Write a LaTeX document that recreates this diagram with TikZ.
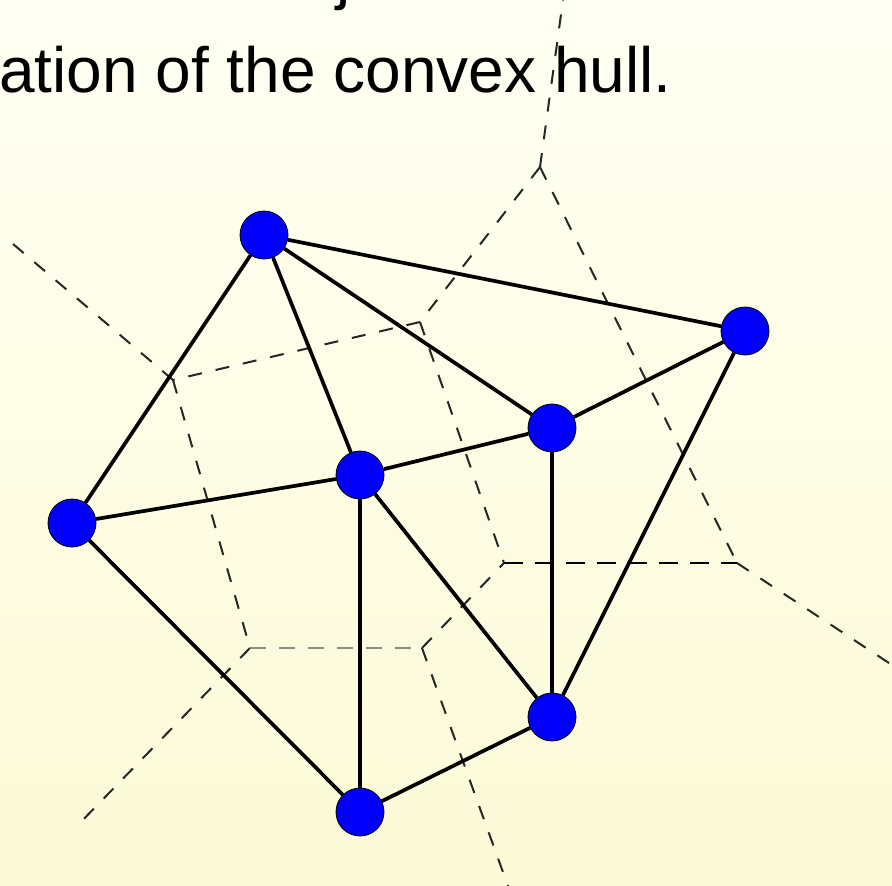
\documentclass[tikz,border=0pt]{standalone}
\usepackage{fontspec}
\setmainfont{Liberation Sans}
\definecolor{bgtop}{RGB}{255,255,244}
\definecolor{bgbot}{RGB}{252,250,214}
\definecolor{nodeblue}{RGB}{0,0,250}
\begin{document}
\begin{tikzpicture}[x=1pt,y=-1pt,
  vtx/.style={circle,draw=black,line width=0.8pt,fill=nodeblue,minimum size=48pt,inner sep=0pt},
  edge/.style={line width=3.7pt,black},
  vor/.style={line width=2pt,black!85,dash pattern=on 14pt off 14pt},
  vorgray/.style={line width=2.8pt,black!45,dash pattern=on 16pt off 13pt},
  vorbold/.style={line width=2.8pt,black,dash pattern=on 19pt off 12pt},
  txt/.style={inner sep=0pt,font=\fontsize{64}{77}\selectfont}]
\useasboundingbox (0,0) rectangle (892,886);
\shade[top color=bgtop,bottom color=bgbot] (0,0) rectangle (892,886);
% text
\node[txt,anchor=base west] (t0) at (336,-2) {j};
\node[txt,anchor=base west] (t1) at (-1,92) {ation of the convex hull.};
% Voronoi vertices
\coordinate (V1) at (540,167);
\coordinate (V2) at (420,322);
\coordinate (V3) at (173,380);
\coordinate (V4) at (250,648);
\coordinate (V5) at (422,648);
\coordinate (V6) at (504,563);
\coordinate (V7) at (737,563);
\coordinate (E1) at (563,0);
\coordinate (E2) at (13,244);
\coordinate (E3) at (75,828);
\coordinate (E4) at (508,886);
\coordinate (E5) at (892,665);
\draw[vor] (V1) -- (E1);
\draw[vor] (V1) -- (V2);
\draw[vor] (V1) -- (V7);
\draw[vor] (V2) -- (V3);
\draw[vor] (V2) -- (V6);
\draw[vor] (V3) -- (E2);
\draw[vor] (V3) -- (V4);
\draw[vor] (V4) -- (E3);
\draw[vorgray] (V4) -- (V5);
\draw[vor] (V5) -- (E4);
\draw[vor] (V5) -- (V6);
\draw[vorbold] (V6) -- (V7);
\draw[vor] (V7) -- (E5);
% Delaunay nodes
\node[vtx] (A) at (264,235) {};
\node[vtx] (B) at (745,331) {};
\node[vtx] (C) at (552,428) {};
\node[vtx] (D) at (360,475) {};
\node[vtx] (E) at (72,523) {};
\node[vtx] (F) at (552,717) {};
\node[vtx] (G) at (360,812) {};
\draw[edge] (A) -- (B);
\draw[edge] (A) -- (E);
\draw[edge] (A) -- (D);
\draw[edge] (A) -- (C);
\draw[edge] (B) -- (C);
\draw[edge] (B) -- (F);
\draw[edge] (C) -- (D);
\draw[edge] (C) -- (F);
\draw[edge] (D) -- (E);
\draw[edge] (D) -- (G);
\draw[edge] (D) -- (F);
\draw[edge] (E) -- (G);
\draw[edge] (G) -- (F);
\end{tikzpicture}
\end{document}
